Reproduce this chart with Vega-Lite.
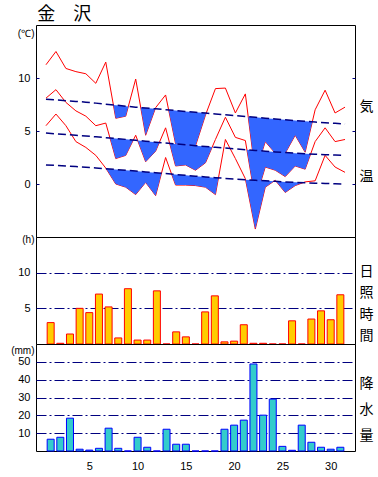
{
  "$schema": "https://vega.github.io/schema/vega-lite/v6.json",
  "padding": {"left": 10, "top": 5, "right": 0, "bottom": 0},
  "bounds": "flush",
  "title": {"text": "金　沢", "anchor": "start", "fontSize": 18, "font": "Noto Sans CJK JP", "fontWeight": "normal", "color": "black", "dx": 27, "offset": 1},
  "config": {
    "view": {"stroke": "black", "strokeWidth": 1},
    "font": "Liberation Sans",
    "axis": {"labelFont": "Liberation Sans", "labelFontSize": 11, "labelColor": "black", "titleFont": "Liberation Sans", "titleFontWeight": "normal", "titleColor": "black"}
  },
  "datasets": {
    "temp": [
      {"d":1,"max":11.25,"mean":8.1,"min":5.5,"nmax":8.0,"nmean":4.8,"nmin":1.8},
      {"d":2,"max":12.5,"mean":8.9,"min":6.6,"nmax":7.93,"nmean":4.74,"nmin":1.75},
      {"d":3,"max":10.9,"mean":7.7,"min":5.5,"nmax":7.86,"nmean":4.67,"nmin":1.7},
      {"d":4,"max":10.6,"mean":6.9,"min":4.0,"nmax":7.79,"nmean":4.6,"nmin":1.64},
      {"d":5,"max":10.4,"mean":6.4,"min":3.45,"nmax":7.72,"nmean":4.53,"nmin":1.58},
      {"d":6,"max":9.5,"mean":5.5,"min":2.7,"nmax":7.63,"nmean":4.45,"nmin":1.51},
      {"d":7,"max":11.5,"mean":5.75,"min":1.5,"nmax":7.53,"nmean":4.37,"nmin":1.44},
      {"d":8,"max":6.2,"mean":2.4,"min":0.0,"nmax":7.44,"nmean":4.29,"nmin":1.37},
      {"d":9,"max":6.4,"mean":2.7,"min":-0.3,"nmax":7.34,"nmean":4.21,"nmin":1.3},
      {"d":10,"max":9.9,"mean":4.6,"min":-1.0,"nmax":7.25,"nmean":4.12,"nmin":1.22},
      {"d":11,"max":4.6,"mean":2.1,"min":0.15,"nmax":7.17,"nmean":4.04,"nmin":1.14},
      {"d":12,"max":7.2,"mean":3.1,"min":-1.1,"nmax":7.09,"nmean":3.95,"nmin":1.06},
      {"d":13,"max":8.4,"mean":5.3,"min":2.5,"nmax":7.01,"nmean":3.87,"nmin":0.98},
      {"d":14,"max":3.8,"mean":1.7,"min":-0.1,"nmax":6.93,"nmean":3.78,"nmin":0.9},
      {"d":15,"max":3.7,"mean":1.8,"min":-0.1,"nmax":6.85,"nmean":3.7,"nmin":0.82},
      {"d":16,"max":3.6,"mean":1.3,"min":-0.15,"nmax":6.77,"nmean":3.62,"nmin":0.74},
      {"d":17,"max":6.5,"mean":2.0,"min":-0.3,"nmax":6.69,"nmean":3.54,"nmin":0.67},
      {"d":18,"max":9.0,"mean":4.2,"min":-1.0,"nmax":6.61,"nmean":3.46,"nmin":0.6},
      {"d":19,"max":9.05,"mean":6.3,"min":4.2,"nmax":6.53,"nmean":3.39,"nmin":0.53},
      {"d":20,"max":6.7,"mean":4.4,"min":2.4,"nmax":6.45,"nmean":3.31,"nmin":0.47},
      {"d":21,"max":8.5,"mean":4.1,"min":0.5,"nmax":6.37,"nmean":3.24,"nmin":0.41},
      {"d":22,"max":1.0,"mean":-1.5,"min":-4.25,"nmax":6.29,"nmean":3.17,"nmin":0.35},
      {"d":23,"max":4.0,"mean":1.6,"min":-0.3,"nmax":6.21,"nmean":3.1,"nmin":0.3},
      {"d":24,"max":2.9,"mean":1.3,"min":0.35,"nmax":6.13,"nmean":3.03,"nmin":0.25},
      {"d":25,"max":2.9,"mean":0.7,"min":-0.8,"nmax":6.05,"nmean":2.97,"nmin":0.2},
      {"d":26,"max":4.6,"mean":1.7,"min":-0.15,"nmax":5.98,"nmean":2.91,"nmin":0.16},
      {"d":27,"max":3.0,"mean":1.4,"min":0.2,"nmax":5.91,"nmean":2.86,"nmin":0.12},
      {"d":28,"max":7.0,"mean":4.0,"min":0.3,"nmax":5.85,"nmean":2.81,"nmin":0.08},
      {"d":29,"max":8.85,"mean":5.3,"min":2.7,"nmax":5.78,"nmean":2.77,"nmin":0.05},
      {"d":30,"max":6.7,"mean":4.0,"min":1.6,"nmax":5.72,"nmean":2.73,"nmin":0.02},
      {"d":31,"max":7.25,"mean":4.2,"min":1.1,"nmax":5.65,"nmean":2.7,"nmin":0.0}
    ],
    "fill": [
      {"s":"xA","d":7.762,"lo":7.46,"n":7.46},{"s":"xA","d":8,"lo":6.2,"n":7.44},{"s":"xA","d":9,"lo":6.4,"n":7.34},{"s":"xA","d":9.262,"lo":7.32,"n":7.32},
      {"s":"xB","d":10.508,"lo":7.21,"n":7.21},{"s":"xB","d":11,"lo":4.6,"n":7.17},{"s":"xB","d":11.959,"lo":7.09,"n":7.09},
      {"s":"xC","d":13.308,"lo":6.99,"n":6.99},{"s":"xC","d":14,"lo":3.8,"n":6.93},{"s":"xC","d":15,"lo":3.7,"n":6.85},{"s":"xC","d":16,"lo":3.6,"n":6.77},{"s":"xC","d":17,"lo":6.5,"n":6.69},{"s":"xC","d":17.074,"lo":6.68,"n":6.68},
      {"s":"xD","d":21.287,"lo":6.35,"n":6.35},{"s":"xD","d":22,"lo":1.0,"n":6.29},{"s":"xD","d":23,"lo":4.0,"n":6.21},{"s":"xD","d":24,"lo":2.9,"n":6.13},{"s":"xD","d":25,"lo":2.9,"n":6.05},{"s":"xD","d":26,"lo":4.6,"n":5.98},{"s":"xD","d":27,"lo":3.0,"n":5.91},{"s":"xD","d":27.717,"lo":5.87,"n":5.87},
      {"s":"mA","d":7.422,"lo":4.34,"n":4.34},{"s":"mA","d":8,"lo":2.4,"n":4.29},{"s":"mA","d":9,"lo":2.7,"n":4.21},{"s":"mA","d":9.759,"lo":4.14,"n":4.14},
      {"s":"mB","d":10.198,"lo":4.1,"n":4.1},{"s":"mB","d":11,"lo":2.1,"n":4.04},{"s":"mB","d":12,"lo":3.1,"n":3.95},{"s":"mB","d":12.373,"lo":3.92,"n":3.92},
      {"s":"mC","d":13.407,"lo":3.83,"n":3.83},{"s":"mC","d":14,"lo":1.7,"n":3.78},{"s":"mC","d":15,"lo":1.8,"n":3.7},{"s":"mC","d":16,"lo":1.3,"n":3.62},{"s":"mC","d":17,"lo":2.0,"n":3.54},{"s":"mC","d":17.675,"lo":3.49,"n":3.49},
      {"s":"mD","d":21.156,"lo":3.23,"n":3.23},{"s":"mD","d":22,"lo":-1.5,"n":3.17},{"s":"mD","d":23,"lo":1.6,"n":3.1},{"s":"mD","d":24,"lo":1.3,"n":3.03},{"s":"mD","d":25,"lo":0.7,"n":2.97},{"s":"mD","d":26,"lo":1.7,"n":2.91},{"s":"mD","d":27,"lo":1.4,"n":2.86},{"s":"mD","d":27.551,"lo":2.83,"n":2.83},
      {"s":"nA","d":7.042,"lo":1.44,"n":1.44},{"s":"nA","d":8,"lo":0.0,"n":1.37},{"s":"nA","d":9,"lo":-0.3,"n":1.3},{"s":"nA","d":10,"lo":-1.0,"n":1.22},{"s":"nA","d":11,"lo":0.15,"n":1.14},{"s":"nA","d":12,"lo":-1.1,"n":1.06},{"s":"nA","d":12.587,"lo":1.01,"n":1.01},
      {"s":"nB","d":13.603,"lo":0.93,"n":0.93},{"s":"nB","d":14,"lo":-0.1,"n":0.9},{"s":"nB","d":15,"lo":-0.1,"n":0.82},{"s":"nB","d":16,"lo":-0.15,"n":0.74},{"s":"nB","d":17,"lo":-0.3,"n":0.67},{"s":"nB","d":18,"lo":-1.0,"n":0.6},{"s":"nB","d":18.304,"lo":0.58,"n":0.58},
      {"s":"nC","d":21.019,"lo":0.41,"n":0.41},{"s":"nC","d":22,"lo":-4.25,"n":0.35},{"s":"nC","d":23,"lo":-0.3,"n":0.3},{"s":"nC","d":23.857,"lo":0.26,"n":0.26},
      {"s":"nD","d":24.091,"lo":0.25,"n":0.25},{"s":"nD","d":25,"lo":-0.8,"n":0.2},{"s":"nD","d":26,"lo":-0.15,"n":0.16},{"s":"nD","d":26.795,"lo":0.13,"n":0.13}
    ],
    "sun": [
      {"d":1,"h":3.0},{"d":2,"h":0.1},{"d":3,"h":1.4},{"d":4,"h":5.0},{"d":5,"h":4.4},{"d":6,"h":7.0},{"d":7,"h":5.2},{"d":8,"h":0.85},{"d":9,"h":7.75},{"d":10,"h":0.55},{"d":11,"h":0.55},{"d":12,"h":7.45},{"d":13,"h":0},{"d":14,"h":1.7},{"d":15,"h":1.0},{"d":16,"h":0},{"d":17,"h":4.5},{"d":18,"h":6.75},{"d":19,"h":0.3},{"d":20,"h":0.4},{"d":21,"h":2.7},{"d":22,"h":0.1},{"d":23,"h":0.1},{"d":24,"h":0},{"d":25,"h":0},{"d":26,"h":3.25},{"d":27,"h":0},{"d":28,"h":3.5},{"d":29,"h":4.65},{"d":30,"h":3.4},{"d":31,"h":6.9}
    ],
    "rain": [
      {"d":1,"mm":6.6},{"d":2,"mm":7.7},{"d":3,"mm":18.4},{"d":4,"mm":1.0},{"d":5,"mm":0.5},{"d":6,"mm":1.5},{"d":7,"mm":12.8},{"d":8,"mm":1.5},{"d":9,"mm":0},{"d":10,"mm":7.7},{"d":11,"mm":2.1},{"d":12,"mm":0},{"d":13,"mm":12.2},{"d":14,"mm":3.8},{"d":15,"mm":3.8},{"d":16,"mm":0},{"d":17,"mm":0},{"d":18,"mm":0},{"d":19,"mm":12.2},{"d":20,"mm":14.5},{"d":21,"mm":17.3},{"d":22,"mm":48.8},{"d":23,"mm":20.1},{"d":24,"mm":29.1},{"d":25,"mm":2.6},{"d":26,"mm":0.4},{"d":27,"mm":14.5},{"d":28,"mm":4.9},{"d":29,"mm":2.1},{"d":30,"mm":1.0},{"d":31,"mm":2.1}
    ]
  },
  "vconcat": [
    {
      "width": 319,
      "height": 212,
      "encoding": {"x": {"field": "d", "type": "quantitative", "scale": {"domain": [0, 32], "nice": false, "zero": false}, "axis": null}},
      "layer": [
        {"data": {"name": "temp"}, "mark": {"type": "line", "color": "#ff0000", "strokeWidth": 1},
         "encoding": {"y": {"field": "max", "type": "quantitative", "scale": {"domain": [-5, 15], "nice": false, "zero": false},
           "axis": {"orient": "left", "values": [0, 5, 10], "domain": false, "grid": false, "tickSize": -3, "tickColor": "#000080", "labelPadding": 9,
             "title": "(℃)", "titleAngle": 0, "titleAlign": "right", "titleBaseline": "middle", "titleX": -2, "titleY": 8, "titleFontSize": 10}}}},
        {"data": {"name": "temp"}, "mark": {"type": "line", "color": "#ff0000", "strokeWidth": 1},
         "encoding": {"y": {"field": "mean", "type": "quantitative", "scale": {"domain": [-5, 15], "nice": false, "zero": false}, "axis": null}}},
        {"data": {"name": "temp"}, "mark": {"type": "line", "color": "#ff0000", "strokeWidth": 1},
         "encoding": {"y": {"field": "min", "type": "quantitative", "scale": {"domain": [-5, 15], "nice": false, "zero": false}, "axis": null}}},
        {"data": {"name": "fill"}, "mark": {"type": "area", "color": "#3366ff", "opacity": 1},
         "encoding": {"y": {"field": "lo", "type": "quantitative", "scale": {"domain": [-5, 15], "nice": false, "zero": false}, "axis": null}, "y2": {"field": "n"}, "detail": {"field": "s"}}},
        {"data": {"name": "temp"}, "mark": {"type": "line", "color": "#000080", "strokeWidth": 1.5, "strokeDash": [8, 4]},
         "encoding": {"y": {"field": "nmax", "type": "quantitative", "scale": {"domain": [-5, 15], "nice": false, "zero": false},
           "axis": {"orient": "right", "values": [0, 5, 10], "labels": false, "domain": false, "grid": false, "tickSize": -3, "tickColor": "#000080",
             "title": ["気", "温"], "titleAngle": 0, "titleAlign": "center", "titleBaseline": "middle", "titleX": 11, "titleY": 81, "titleLineHeight": 70, "titleFontSize": 14, "titleFont": "Noto Sans CJK JP"}}}},
        {"data": {"name": "temp"}, "mark": {"type": "line", "color": "#000080", "strokeWidth": 1.5, "strokeDash": [8, 4]},
         "encoding": {"y": {"field": "nmean", "type": "quantitative", "scale": {"domain": [-5, 15], "nice": false, "zero": false}, "axis": null}}},
        {"data": {"name": "temp"}, "mark": {"type": "line", "color": "#000080", "strokeWidth": 1.5, "strokeDash": [8, 4]},
         "encoding": {"y": {"field": "nmin", "type": "quantitative", "scale": {"domain": [-5, 15], "nice": false, "zero": false}, "axis": null}}}
      ],
      "resolve": {"axis": {"y": "independent"}}
    },
    {
      "width": 319,
      "height": 107,
      "data": {"name": "sun"},
      "encoding": {"x": {"field": "d", "type": "quantitative", "scale": {"domain": [0, 32], "nice": false, "zero": false}, "axis": null}},
      "layer": [
        {"mark": {"type": "bar", "width": 7, "color": "#ffcc00", "stroke": "#ff0000", "strokeWidth": 1},
         "encoding": {"y": {"field": "h", "type": "quantitative", "scale": {"domain": [0, 15], "nice": false},
           "axis": {"orient": "left", "values": [5, 10], "domain": false, "ticks": false, "labelPadding": 6,
             "grid": true, "gridColor": "#000080", "gridDash": [10, 3, 2, 3], "gridWidth": 1,
             "title": "(h)", "titleAngle": 0, "titleAlign": "right", "titleBaseline": "middle", "titleX": -2, "titleY": 2, "titleFontSize": 10}}}},
        {"mark": {"type": "bar", "width": 7, "opacity": 0},
         "encoding": {"y": {"field": "h", "type": "quantitative", "scale": {"domain": [0, 15], "nice": false},
           "axis": {"orient": "right", "labels": false, "domain": false, "ticks": false, "grid": false,
             "title": ["日", "照", "時", "間"], "titleAngle": 0, "titleAlign": "center", "titleBaseline": "middle", "titleX": 11, "titleY": 34, "titleLineHeight": 21.5, "titleFontSize": 14, "titleFont": "Noto Sans CJK JP"}}}}
      ],
      "resolve": {"axis": {"y": "independent"}}
    },
    {
      "width": 319,
      "height": 107,
      "data": {"name": "rain"},
      "encoding": {"x": {"field": "d", "type": "quantitative", "scale": {"domain": [0, 32], "nice": false, "zero": false},
        "axis": {"values": [5, 10, 15, 20, 25, 30], "domain": false, "ticks": false, "grid": false, "labelPadding": 9, "title": null, "labelFlush": false}}},
      "layer": [
        {"mark": {"type": "bar", "width": 7, "color": "#33cccc", "stroke": "#0000ff", "strokeWidth": 1},
         "encoding": {"y": {"field": "mm", "type": "quantitative", "scale": {"domain": [0, 60], "nice": false},
           "axis": {"orient": "left", "values": [10, 20, 30, 40, 50], "domain": false, "ticks": false, "labelPadding": 6,
             "grid": true, "gridColor": "#000080", "gridDash": [10, 3, 2, 3], "gridWidth": 1,
             "title": "(mm)", "titleAngle": 0, "titleAlign": "right", "titleBaseline": "middle", "titleX": -2, "titleY": 6.5, "titleFontSize": 10}}}},
        {"mark": {"type": "bar", "width": 7, "opacity": 0},
         "encoding": {"y": {"field": "mm", "type": "quantitative", "scale": {"domain": [0, 60], "nice": false},
           "axis": {"orient": "right", "labels": false, "domain": false, "ticks": false, "grid": false,
             "title": ["降", "水", "量"], "titleAngle": 0, "titleAlign": "center", "titleBaseline": "middle", "titleX": 11, "titleY": 39, "titleLineHeight": 26, "titleFontSize": 14, "titleFont": "Noto Sans CJK JP"}}}}
      ],
      "resolve": {"axis": {"y": "independent"}}
    }
  ],
  "spacing": 0
}
